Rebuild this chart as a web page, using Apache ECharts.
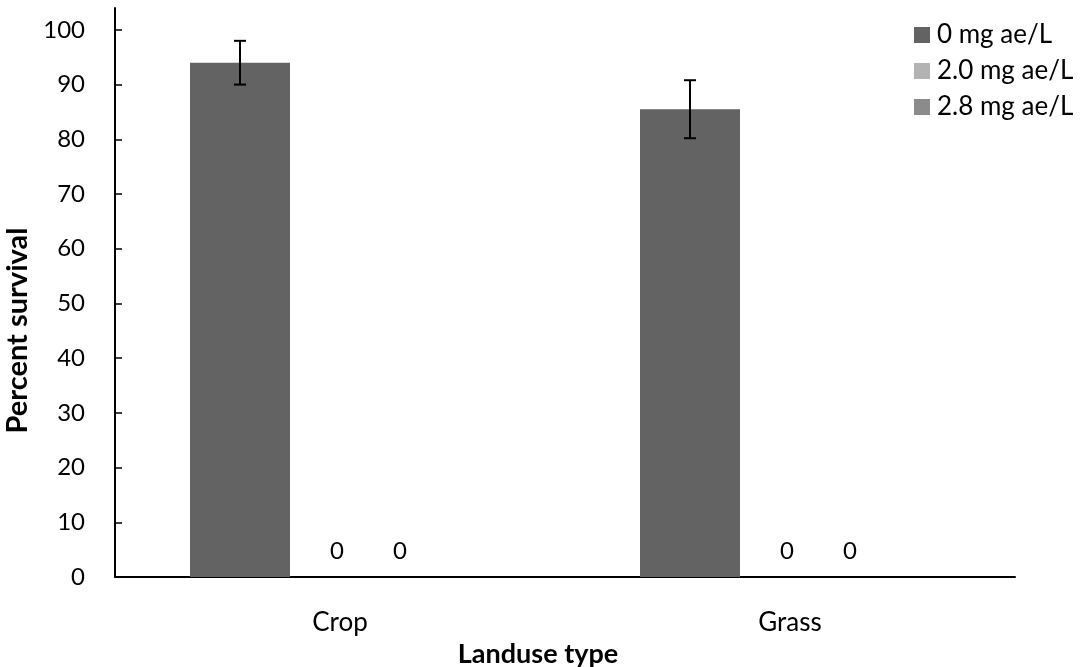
<!DOCTYPE html>
<html><head><meta charset="utf-8">
<script src="https://cdn.jsdelivr.net/npm/echarts@6/dist/echarts.min.js"></script>
<style>html,body{margin:0;padding:0;background:#fff}#c{width:1086px;height:667px}</style>
</head><body><div id="c"></div>
<script>
const categories = ['Crop', 'Grass'];
const seriesNames = ['0 mg ae/L', '2.0 mg ae/L', '2.8 mg ae/L'];
const dose0 = [94, 85.5];
const dose20 = [0, 0];
const dose28 = [0, 0];
const err0 = [4, 5.3];
const yTicks = [0, 10, 20, 30, 40, 50, 60, 70, 80, 90, 100];

const FONT = 'Lato';
const colors = ['#636363', '#b3b3b3', '#8b8b8b'];
const chart = echarts.init(document.getElementById('c'));
const errData = categories.map((c, i) => [i, dose0[i] - err0[i], dose0[i] + err0[i]]);
chart.setOption({
  animation: false,
  textStyle: {fontFamily: FONT},
  grid: {left: 115, right: 71, top: 8, bottom: 90, outerBoundsMode: 'none', containLabel: false},
  legend: {
    orient: 'vertical', left: 909, top: 15, itemWidth: 16, itemHeight: 16, itemGap: 6,
    icon: 'rect', data: seriesNames,
    textStyle: {fontFamily: FONT, fontSize: 26, lineHeight: 30, color: '#000', padding: [0,0,0,2]}
  },
  xAxis: {
    type: 'category', data: categories,
    name: 'Landuse type', nameLocation: 'middle', nameGap: 59,
    nameTextStyle: {fontFamily: FONT, fontSize: 27, fontWeight: 'bold', color: '#000', padding: [0, 54, 0, 0]},
    axisLine: {lineStyle: {color: '#000', width: 2}},
    axisTick: {inside: true, length: 7, lineStyle: {color: '#000', width: 1.5}},
    axisLabel: {fontFamily: FONT, fontSize: 26, color: '#000', margin: 33}
  },
  yAxis: {
    type: 'value', min: 0, max: 104,
    name: 'Percent survival', nameLocation: 'middle', nameGap: 78,
    nameTextStyle: {fontFamily: FONT, fontSize: 29, fontWeight: 'bold', color: '#000', padding: [0, 76, 0, 0]},
    splitLine: {show: false},
    axisLine: {show: true, lineStyle: {color: '#000', width: 2}},
    axisTick: {show: true, inside: true, length: 7, customValues: yTicks, lineStyle: {color: '#000', width: 1.5}},
    axisLabel: {fontFamily: FONT, fontSize: 24, color: '#000', margin: 30, customValues: yTicks}
  },
  series: [
    {name: seriesNames[0], type: 'bar', data: dose0, barGap: '0%', barCategoryGap: '33.33%',
     itemStyle: {color: colors[0]}},
    {name: seriesNames[1], type: 'bar', data: dose20, itemStyle: {color: colors[1]},
     label: {show: true, position: 'top', distance: 14, offset: [-3, 0], fontFamily: FONT, fontSize: 24, color: '#000'}},
    {name: seriesNames[2], type: 'bar', data: dose28, itemStyle: {color: colors[2]},
     label: {show: true, position: 'top', distance: 14, offset: [-40, 0], fontFamily: FONT, fontSize: 24, color: '#000'}},
    {type: 'custom', data: errData, z: 10, silent: true,
     renderItem: function (params, api) {
       const band = api.size([1, 0])[0];
       const lo = api.coord([api.value(0), api.value(1)]);
       const hi = api.coord([api.value(0), api.value(2)]);
       const x = lo[0] - band * 2 / 9;
       const cap = 6;
       const st = {stroke: '#000', lineWidth: 2};
       return {type: 'group', children: [
         {type: 'line', shape: {x1: x, y1: lo[1], x2: x, y2: hi[1]}, style: st},
         {type: 'line', shape: {x1: x - cap, y1: lo[1], x2: x + cap, y2: lo[1]}, style: st},
         {type: 'line', shape: {x1: x - cap, y1: hi[1], x2: x + cap, y2: hi[1]}, style: st}
       ]};
     }}
  ]
});
</script></body></html>
